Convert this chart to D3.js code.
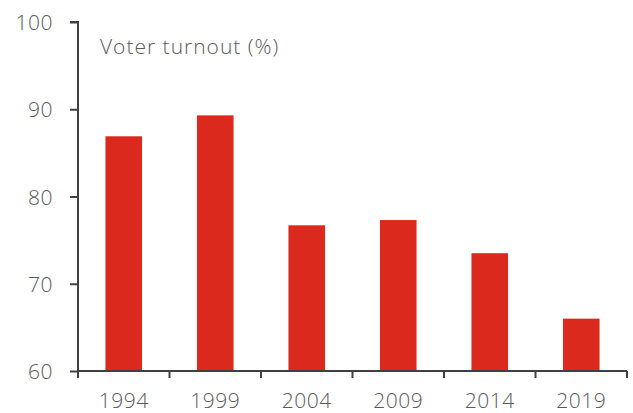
<!DOCTYPE html>
<html>
<head>
<meta charset="utf-8">
<script src="https://cdn.jsdelivr.net/npm/d3@7"></script>
<style>
  html, body { margin: 0; padding: 0; background: #fff; }
  svg { display: block; }
  text { font-family: "Open Sans", Lato, sans-serif; font-weight: 300; fill: #5a5a5a; }
</style>
</head>
<body>
<svg id="chart" width="633" height="413"></svg>
<script>
// Election years and turnout (%)
const years = ["1994", "1999", "2004", "2009", "2014", "2019"];
const turnout = [86.9, 89.3, 76.7, 77.3, 73.5, 66.0];
const yTicks = [60, 70, 80, 90, 100];
const title = "Voter turnout (%)";

const svg = d3.select("#chart");
const margin = { left: 78, right: 6, top: 22, bottom: 42 };
const W = 633, H = 413;

const x = d3.scaleBand().domain(years).range([margin.left, W - margin.right]).padding(0);
const y = d3.scaleLinear().domain([60, 100]).range([H - margin.bottom, margin.top]);

const barW = x.bandwidth() * 0.4;

svg.append("g").selectAll("rect")
  .data(years.map((yr, i) => ({ yr, v: turnout[i] })))
  .join("rect")
  .attr("x", d => x(d.yr) + (x.bandwidth() - barW) / 2)
  .attr("y", d => y(d.v))
  .attr("width", barW)
  .attr("height", d => y(60) - y(d.v))
  .attr("fill", "#dc291e");

// Y axis
const yAxis = svg.append("g")
  .attr("transform", `translate(${margin.left},0)`)
  .call(d3.axisLeft(y).tickValues(yTicks).tickSize(8).tickPadding(17));
yAxis.select(".domain").attr("stroke", "#404040").attr("stroke-width", 2)
  .attr("d", `M-8,${y(100)}H0V${y(60)}`);
yAxis.selectAll(".tick line").attr("stroke", "#404040").attr("stroke-width", 2);
yAxis.selectAll(".tick text")
  .style("font-size", "21px").style("letter-spacing", "0.5px")
  .attr("fill", "#5a5a5a").attr("dy", "0.36em");

// X axis with ticks at band boundaries
const xAxis = svg.append("g")
  .attr("transform", `translate(0,${y(60)})`);
xAxis.append("line")
  .attr("x1", margin.left - 1).attr("x2", W - margin.right)
  .attr("stroke", "#404040").attr("stroke-width", 2);
const bounds = years.map(d => x(d)).concat([x(years[years.length - 1]) + x.bandwidth()]);
xAxis.selectAll("line.tk").data(bounds).join("line")
  .attr("class", "tk")
  .attr("x1", d => d).attr("x2", d => d)
  .attr("y1", 0).attr("y2", 7)
  .attr("stroke", "#404040").attr("stroke-width", 2);
xAxis.selectAll("text").data(years).join("text")
  .attr("x", d => x(d) + x.bandwidth() / 2)
  .attr("y", 37)
  .attr("text-anchor", "middle")
  .style("font-size", "21px").style("letter-spacing", "0.5px")
  .text(d => d);

svg.append("text")
  .attr("x", 100).attr("y", 54)
  .style("font-size", "21px").style("letter-spacing", "1px")
  .text(title);
</script>
</body>
</html>
